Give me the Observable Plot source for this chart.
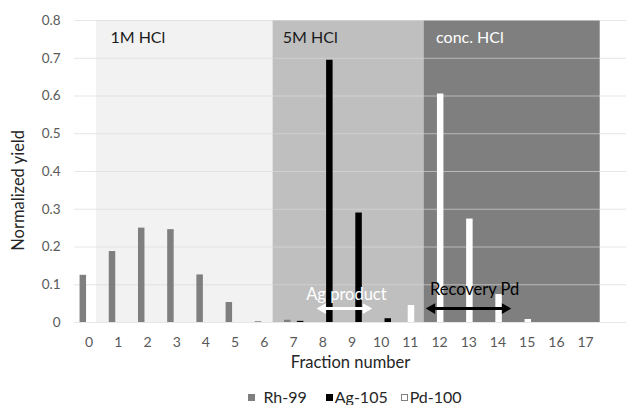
<!DOCTYPE html>
<html><head><meta charset="utf-8">
<script src="https://cdn.jsdelivr.net/npm/d3@7"></script>
<script src="https://cdn.jsdelivr.net/npm/@observablehq/plot@0.6"></script>
<style>
body{margin:0;background:#fff;font-family:Lato,"Open Sans",sans-serif;}
#legend{width:626px;box-sizing:border-box;padding-left:84px;margin-top:12px;display:flex;justify-content:center;align-items:center;font-size:16px;line-height:20px;color:#262626;}
#legend .sw{display:inline-block;width:7px;height:7px;box-sizing:border-box;}
</style></head><body>
<div id="chart"></div>
<div id="legend"></div>
<script>
// ---- data ----
const fractions = [0,1,2,3,4,5,6,7,8,9,10,11,12,13,14,15,16,17];
const rh99  = [0.125,0.188,0.250,0.246,0.126,0.053,0.002,0.006,0,0,0,0,0,0,0,0,0,0];
const ag105 = [0,0,0,0,0,0,0,0.003,0.695,0.290,0.010,0,0,0,0,0,0,0];
const pd100 = [0,0,0,0,0,0,0,0,0,0,0,0.045,0.605,0.274,0.074,0.008,0,0];
const seriesNames = ["Rh-99","Ag-105","Pd-100"];
const yTicks = [0,0.1,0.2,0.3,0.4,0.5,0.6,0.7,0.8];
const regionNames = ["1M HCl","5M HCl","conc. HCl"];
const regionStart = [0.25, 6.3, 11.47];
const regionEnd   = [6.3, 11.47, 17.5];
const regionLabelX = [0.73, 6.63, 11.88];
const arrowNames = ["Ag product","Recovery Pd"];
const arrowFrom = [8.0, 11.74];
const arrowTo   = [9.48, 14.24];
const arrowY    = [0.037, 0.037];
const arrowLabelX = [8.81, 13.2];
const arrowLabelY = [0.074, 0.087];
const yTitleY = 0.35;

// ---- tables ----
const bars = [];
fractions.forEach((f,i)=>{
  bars.push({f, series:"Rh-99", v:rh99[i]});
  bars.push({f, series:"Ag-105", v:ag105[i]});
  bars.push({f, series:"Pd-100", v:pd100[i]});
});
const regions = regionNames.map((name,i)=>({name, x1:regionStart[i], x2:regionEnd[i], lx:regionLabelX[i]}));
const arrows = arrowNames.map((name,i)=>({name, x1:arrowFrom[i], x2:arrowTo[i], y:arrowY[i], lx:arrowLabelX[i], ly:arrowLabelY[i]}));

// ---- styles ----
const regionFill = {"1M HCl":"#f2f2f2","5M HCl":"#bfbfbf","conc. HCl":"#7f7f7f"};
const regionText = {"1M HCl":"#1a1a1a","5M HCl":"#1a1a1a","conc. HCl":"#ffffff"};
const seriesFill = {"Rh-99":"#7f7f7f","Ag-105":"#000000","Pd-100":"#ffffff"};
const seriesDx = {"Rh-99":-6.3,"Ag-105":6.6,"Pd-100":0.6};
const arrowColor = {"Ag product":"#ffffff","Recovery Pd":"#000000"};

const barMarks = seriesNames.map(s => Plot.ruleX(bars.filter(d=>d.series===s && d.v>0), {
  x:"f", y1:0, y2:"v", stroke: seriesFill[s], strokeWidth:6.5, dx: seriesDx[s]
}));

const chart = Plot.plot({
  width:626, height:375,
  marginLeft:74, marginRight:0, marginTop:20, marginBottom:53,
  style:{fontFamily:"Lato, 'Open Sans', sans-serif", fontSize:"13px", background:"#fff"},
  x:{type:"linear", domain:[-0.5,18.4]},
  y:{domain:[0,0.8]},
  marks:[
    Plot.rect(regions, {x1:"x1", x2:"x2", y1:0, y2:0.8, fill:d=>regionFill[d.name]}),
    Plot.ruleY(yTicks, {y:d=>d, stroke:"#d9d9d9", strokeOpacity:0.65, strokeWidth:1.2}),
    ...barMarks,
    Plot.text(regions, {x:"lx", y:0.755, text:"name", textAnchor:"start", fill:d=>regionText[d.name], fontSize:16}),
    Plot.link(arrows, {x1:"x1", x2:"x2", y1:"y", y2:"y", stroke:d=>arrowColor[d.name], strokeWidth:3}),
    Plot.dot(arrows, {x:"x1", y:"y", symbol:"triangle", r:4, rotate:-90, fill:d=>arrowColor[d.name], stroke:"none"}),
    Plot.dot(arrows, {x:"x2", y:"y", symbol:"triangle", r:4, rotate:90, fill:d=>arrowColor[d.name], stroke:"none"}),
    Plot.text(arrows, {x:"lx", y:"ly", text:"name", fill:d=>arrowColor[d.name], fontSize:16.5}),
    Plot.axisY(yTicks, {tickSize:0, tickPadding:14, tickFormat:d=>d===0?"0":d.toFixed(1), fill:"#595959", fontSize:13.5, label:null}),
    Plot.axisX(fractions, {tickSize:0, tickPadding:15, fill:"#595959", fontSize:14, label:null}),
    Plot.text(["Fraction number"], {frameAnchor:"bottom", lineAnchor:"middle", dy:40, fill:"#262626", fontSize:16.5}),
    Plot.text(["Normalized yield"], {frameAnchor:"left", y:[yTitleY], textAnchor:"middle", dx:-56, rotate:-90, fill:"#262626", fontSize:16.5})
  ]
});
document.getElementById("chart").appendChild(chart);

// ---- legend ----
const legend = document.getElementById("legend");
const gaps = {"Rh-99":[8,19],"Ag-105":[2,13],"Pd-100":[2,0]};
seriesNames.forEach(s=>{
  const sw = document.createElement("span");
  sw.className="sw";
  sw.style.background = seriesFill[s];
  sw.style.border = s==="Pd-100" ? "1px solid #7f7f7f" : "none";
  sw.style.marginRight = gaps[s][0]+"px";
  const t = document.createElement("span");
  t.textContent = s;
  t.style.marginRight = gaps[s][1]+"px";
  legend.appendChild(sw); legend.appendChild(t);
});
</script>
</body></html>
